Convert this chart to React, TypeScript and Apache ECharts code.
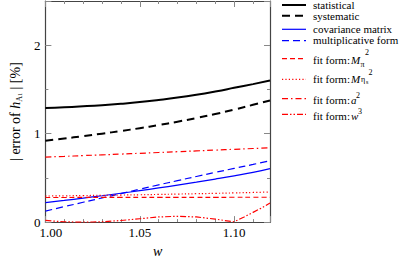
import React, { useEffect, useRef } from "react";
import * as echarts from "echarts";

const wGrid = [1.0, 1.01, 1.02, 1.03, 1.04, 1.05, 1.06, 1.07, 1.08, 1.09, 1.1, 1.11, 1.119];
const statistical = [1.29, 1.298, 1.309, 1.322, 1.338, 1.357, 1.381, 1.408, 1.44, 1.477, 1.518, 1.56, 1.6];
const systematic = [0.92, 0.945, 0.972, 1.0, 1.03, 1.062, 1.097, 1.135, 1.177, 1.222, 1.272, 1.326, 1.375];
const covariance = [0.22, 0.245, 0.271, 0.298, 0.326, 0.355, 0.386, 0.418, 0.451, 0.486, 0.523, 0.563, 0.605];
const multiplicative = [0.125, 0.175, 0.224, 0.273, 0.322, 0.372, 0.421, 0.469, 0.516, 0.562, 0.607, 0.652, 0.695];
const fitMpi = [0.278, 0.278, 0.279, 0.279, 0.279, 0.28, 0.28, 0.28, 0.28, 0.28, 0.281, 0.281, 0.281];
const fitMeta = [0.295, 0.297, 0.3, 0.303, 0.306, 0.309, 0.313, 0.317, 0.321, 0.325, 0.33, 0.335, 0.34];
const fitA2 = [0.735, 0.743, 0.752, 0.76, 0.769, 0.778, 0.787, 0.796, 0.805, 0.814, 0.823, 0.832, 0.84];
const w3Grid = [1.0, 1.005, 1.01, 1.015, 1.02, 1.025, 1.03, 1.04, 1.05, 1.06, 1.07, 1.08, 1.09, 1.095, 1.1, 1.105, 1.11, 1.115, 1.119];
const fitW3 = [0.02, 0.01, 0.004, 0.001, 0.0, 0.001, 0.004, 0.018, 0.038, 0.058, 0.066, 0.058, 0.034, 0.018, 0.004, 0.055, 0.11, 0.165, 0.215];

const xTickLabels = ["1.00", "1.05", "1.10"];
const yTickLabels = ["0", "1", "2"];

const names = [
  "statistical",
  "systematic",
  "covariance matrix",
  "multiplicative form",
  "fit form: Mπ²",
  "fit form: Mηs²",
  "fit form: a²",
  "fit form: w³",
];

// legend text pieces: [text, size, italic]
const legendPieces: [string, number, boolean][][] = [
  [["statistical", 11, false]],
  [["systematic", 11, false]],
  [["covariance matrix", 11, false]],
  [["multiplicative form", 11, false]],
  [["fit form:", 11, false], ["M", 11, true], ["π", 8, false], ["2", 8, false]],
  [["fit form:", 11, false], ["M", 11, true], ["η", 8, false], ["s", 6, false], ["2", 8, false]],
  [["fit form:", 11, false], ["a", 11, true], ["2", 8, false]],
  [["fit form:", 11, false], ["w", 11, true], ["3", 8, false]],
];
// piece placement (x, y middle) in pixels
const legendPlaces: [number, number][][] = [
  [[313, 5.2]],
  [[313, 16.2]],
  [[313, 29]],
  [[313, 40]],
  [[313, 59.5], [351, 59.5], [360.5, 64.5], [365, 52.5]],
  [[313, 78.5], [351, 78.5], [361, 79.5], [366, 82], [368.5, 72.5]],
  [[313, 99.5], [351, 99.5], [356, 95]],
  [[313, 115.5], [351, 115.5], [358, 111.5]],
];
const legendLineY = [5, 15.7, 29.3, 40.7, 58.7, 79.3, 98.7, 114.3];

const SERIF = "Liberation Serif";

export default function App() {
  const ref = useRef<HTMLDivElement>(null);
  useEffect(() => {
    const chart = echarts.init(ref.current!, null, { renderer: "svg" });
    const pairs = (xs: number[], ys: number[]) => xs.map((x, i) => [x, ys[i]]);
    const styles: { color: string; width: number; dash: number[] | null }[] = [
      { color: "#000000", width: 2, dash: null },
      { color: "#000000", width: 2, dash: [8, 5] },
      { color: "#0000ff", width: 1.2, dash: null },
      { color: "#0000ff", width: 1.2, dash: [7, 4] },
      { color: "#ff0000", width: 1.2, dash: [5, 3] },
      { color: "#ff0000", width: 1.2, dash: [1.2, 2.2] },
      { color: "#ff0000", width: 1.2, dash: [6, 3, 1.5, 3] },
      { color: "#ff0000", width: 1.2, dash: [6, 2, 1.5, 2, 1.5, 2] },
    ];
    const datasets = [
      pairs(wGrid, statistical),
      pairs(wGrid, systematic),
      pairs(wGrid, covariance),
      pairs(wGrid, multiplicative),
      pairs(wGrid, fitMpi),
      pairs(wGrid, fitMeta),
      pairs(wGrid, fitA2),
      pairs(w3Grid, fitW3),
    ];
    const series = names.map((name, k) => ({
      type: "line",
      name,
      data: datasets[k],
      symbol: "none",
      smooth: k === 7 ? false : true,
      clip: true,
      lineStyle: { color: styles[k].color, width: styles[k].width, type: styles[k].dash || "solid" },
      itemStyle: { color: styles[k].color },
      xAxisIndex: 0,
      yAxisIndex: 0,
    }));
    const legendGraphics: any[] = [];
    names.forEach((_, k) => {
      const cy = legendLineY[k];
      legendGraphics.push({
        type: "line",
        silent: true,
        shape: { x1: 282, y1: cy, x2: 306, y2: cy },
        style: { stroke: styles[k].color, lineWidth: styles[k].width, lineDash: styles[k].dash || undefined },
      });
      legendPieces[k].forEach(([t, fs, it], j) => {
        const [px, py] = legendPlaces[k][j];
        legendGraphics.push({
          type: "text",
          silent: true,
          x: px,
          y: py,
          style: {
            text: t,
            fontFamily: SERIF,
            fontSize: fs,
            fontStyle: it ? "italic" : "normal",
            fill: "#000",
            align: "left",
            verticalAlign: "middle",
          },
        });
      });
    });
    const axisLineStyle = { color: "#444", width: 1.2 };
    const tickCol = "#888";
    const xBase = { type: "value", min: 1.0, max: 1.119, splitLine: { show: false } };
    const yBase = { type: "value", min: 0, max: 2.5, splitLine: { show: false } };
    const option: any = {
      animation: false,
      backgroundColor: "#fff",
      textStyle: { fontFamily: SERIF },
      grid: { left: 32, right: 129, top: 1, bottom: 23, containLabel: false },
      graphic: legendGraphics,
      xAxis: [
        {
          ...xBase,
          position: "bottom",
          interval: 0.05,
          axisLine: { show: true, onZero: false, lineStyle: axisLineStyle },
          axisTick: { show: true, inside: true, length: 6, lineStyle: { color: tickCol } },
          axisLabel: {
            show: true,
            margin: 4,
            fontFamily: SERIF,
            fontSize: 13,
            color: "#000",
            formatter: (v: number) => {
              const s = v.toFixed(2);
              if (!xTickLabels.includes(s) || Math.abs(v * 20 - Math.round(v * 20)) > 1e-6) return "";
              return s === "1.00" ? "{f|" + s + "}" : s;
            },
            rich: { f: { fontFamily: SERIF, fontSize: 13, color: "#000", padding: [0, 0, 0, 11] } },
          },
          name: "w",
          nameLocation: "middle",
          nameGap: 13,
          nameTextStyle: { fontFamily: SERIF, fontSize: 14, fontStyle: "italic", color: "#000" },
        },
        {
          ...xBase,
          position: "bottom",
          interval: 0.01,
          axisLine: { show: false, onZero: false },
          axisTick: { show: true, inside: true, length: 3, lineStyle: { color: tickCol } },
          axisLabel: { show: false },
        },
        {
          ...xBase,
          position: "top",
          interval: 0.05,
          axisLine: { show: true, onZero: false, lineStyle: axisLineStyle },
          axisTick: { show: true, inside: true, length: 6, lineStyle: { color: tickCol } },
          axisLabel: { show: false },
        },
        {
          ...xBase,
          position: "top",
          interval: 0.01,
          axisLine: { show: false, onZero: false },
          axisTick: { show: true, inside: true, length: 3, lineStyle: { color: tickCol } },
          axisLabel: { show: false },
        },
      ],
      yAxis: [
        {
          ...yBase,
          position: "left",
          interval: 0.5,
          axisLine: { show: true, onZero: false, lineStyle: axisLineStyle },
          axisTick: { show: true, inside: true, length: 3, lineStyle: { color: tickCol } },
          axisLabel: {
            show: true,
            margin: 5,
            fontFamily: SERIF,
            fontSize: 13,
            color: "#000",
            formatter: (v: number) => (yTickLabels.includes(String(v)) ? String(v) : ""),
          },
          name: "{t|| error of }{i|h}{sub|A}{subsub|1}{t| | [%]}",
          nameLocation: "middle",
          nameGap: 15,
          nameRotate: 90,
          nameTextStyle: {
            fontFamily: SERIF,
            fontSize: 14,
            color: "#000",
            rich: {
              t: { fontFamily: SERIF, fontSize: 14, color: "#000", lineHeight: 16 },
              i: { fontFamily: SERIF, fontSize: 14, color: "#000", fontStyle: "italic", lineHeight: 16 },
              sub: { fontFamily: SERIF, fontSize: 8, color: "#000", verticalAlign: "bottom", lineHeight: 9 },
              subsub: { fontFamily: SERIF, fontSize: 6, color: "#000", verticalAlign: "bottom", lineHeight: 5 },
            },
          },
        },
        {
          ...yBase,
          position: "left",
          interval: 1,
          axisLine: { show: false, onZero: false },
          axisTick: { show: true, inside: true, length: 6, lineStyle: { color: tickCol } },
          axisLabel: { show: false },
        },
        {
          ...yBase,
          position: "right",
          interval: 0.5,
          axisLine: { show: true, onZero: false, lineStyle: axisLineStyle },
          axisTick: { show: true, inside: true, length: 3, lineStyle: { color: tickCol } },
          axisLabel: { show: false },
        },
        {
          ...yBase,
          position: "right",
          interval: 1,
          axisLine: { show: false, onZero: false },
          axisTick: { show: true, inside: true, length: 6, lineStyle: { color: tickCol } },
          axisLabel: { show: false },
        },
      ],
      series,
    };
    chart.setOption(option);
    return () => chart.dispose();
  }, []);
  return (
    <div
      ref={ref}
      style={{ position: "fixed", left: 0, top: 0, width: 399, height: 263, background: "#fff" }}
    />
  );
}
